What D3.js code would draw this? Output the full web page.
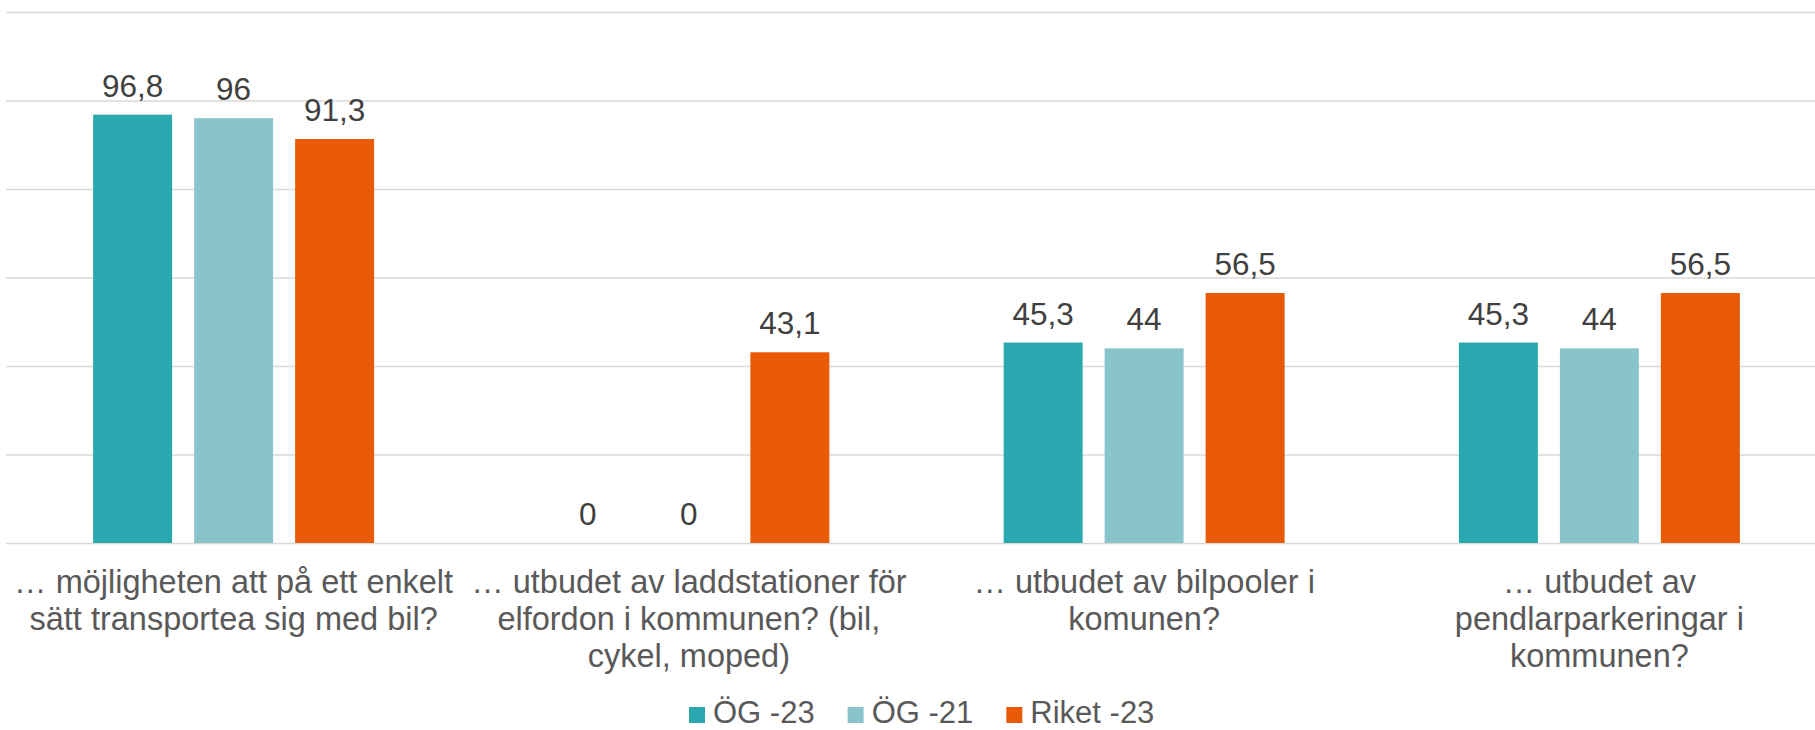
<!DOCTYPE html>
<html>
<head>
<meta charset="utf-8">
<script src="https://cdn.jsdelivr.net/npm/d3@7/dist/d3.min.js"></script>
<style>
  html, body { margin: 0; padding: 0; background: #fff; }
  svg { display: block; }
  text { font-family: "Liberation Sans", Arial, sans-serif; fill: #595959; }
</style>
</head>
<body>
<svg id="chart" width="1815" height="730"></svg>
<script>
const categories = [
  ["… möjligheten att på ett enkelt", "sätt transportea sig med bil?"],
  ["… utbudet av laddstationer för", "elfordon i kommunen? (bil,", "cykel, moped)"],
  ["… utbudet av bilpooler i", "komunen?"],
  ["… utbudet av", "pendlarparkeringar i", "kommunen?"]
];
const seriesNames = ["ÖG -23", "ÖG -21", "Riket -23"];
const og23 = [96.8, 0, 45.3, 45.3];
const og21 = [96, 0, 44, 44];
const riket23 = [91.3, 43.1, 56.5, 56.5];
const yTicks = [0, 20, 40, 60, 80, 100, 120];
const colors = ["#2AA8B0", "#8AC4CB", "#E85A05"];

(function () {
const seriesValues = [og23, og21, riket23];
const catIds = categories.map((c, i) => i);

const svg = d3.select("#chart");
const W = 1815;
const pLeft = 6, pRight = 1827, pTop = 12, pBottom = 543;

const x0 = d3.scaleBand().domain(catIds).range([pLeft, pRight]).paddingInner(0).paddingOuter(0);
const x1 = d3.scaleBand().domain(d3.range(seriesNames.length)).range([0, x0.bandwidth()])
  .paddingInner(0.218).paddingOuter(0.863);
const y = d3.scaleLinear().domain([0, 120]).range([pBottom, pTop]);

// gridlines
const grid = svg.append("g").attr("transform", `translate(${pLeft},0)`)
  .call(d3.axisLeft(y).tickValues(yTicks).tickSize(-(W - pLeft)).tickFormat(""));
grid.select(".domain").remove();
grid.selectAll(".tick line").attr("stroke", "#D9D9D9").attr("stroke-width", 1.5);

const fmt = v => String(v).replace(".", ",");

// bars
seriesValues.forEach((vals, s) => {
  const g = svg.append("g");
  g.selectAll("rect").data(vals).join("rect")
    .attr("x", (d, i) => x0(i) + x1(s))
    .attr("width", x1.bandwidth())
    .attr("y", d => y(d))
    .attr("height", d => y(0) - y(d))
    .attr("fill", colors[s]);
  g.selectAll("text").data(vals).join("text")
    .attr("x", (d, i) => x0(i) + x1(s) + x1.bandwidth() / 2)
    .attr("y", d => y(d) - 18)
    .attr("text-anchor", "middle")
    .attr("font-size", 31.5)
    .style("fill", "#404040")
    .text(d => fmt(d));
});

// category labels
const lab = svg.append("g");
categories.forEach((lines, i) => {
  const cx = x0(i) + x0.bandwidth() / 2;
  const t = lab.append("text")
    .attr("x", cx)
    .attr("y", 593)
    .attr("text-anchor", "middle")
    .attr("font-size", 32.5);
  lines.forEach((ln, k) => {
    t.append("tspan").attr("x", cx).attr("dy", k === 0 ? 0 : 37).text(ln);
  });
});

// legend
const leg = svg.append("g");
let lx = 689;
seriesNames.forEach((name, s) => {
  leg.append("rect").attr("x", lx).attr("y", 707).attr("width", 16).attr("height", 16).attr("fill", colors[s]);
  const t = leg.append("text").attr("x", lx + 24).attr("y", 723).attr("font-size", 31).text(name);
  lx += 24 + t.node().getComputedTextLength() + 33;
});
})();
</script>
</body>
</html>
